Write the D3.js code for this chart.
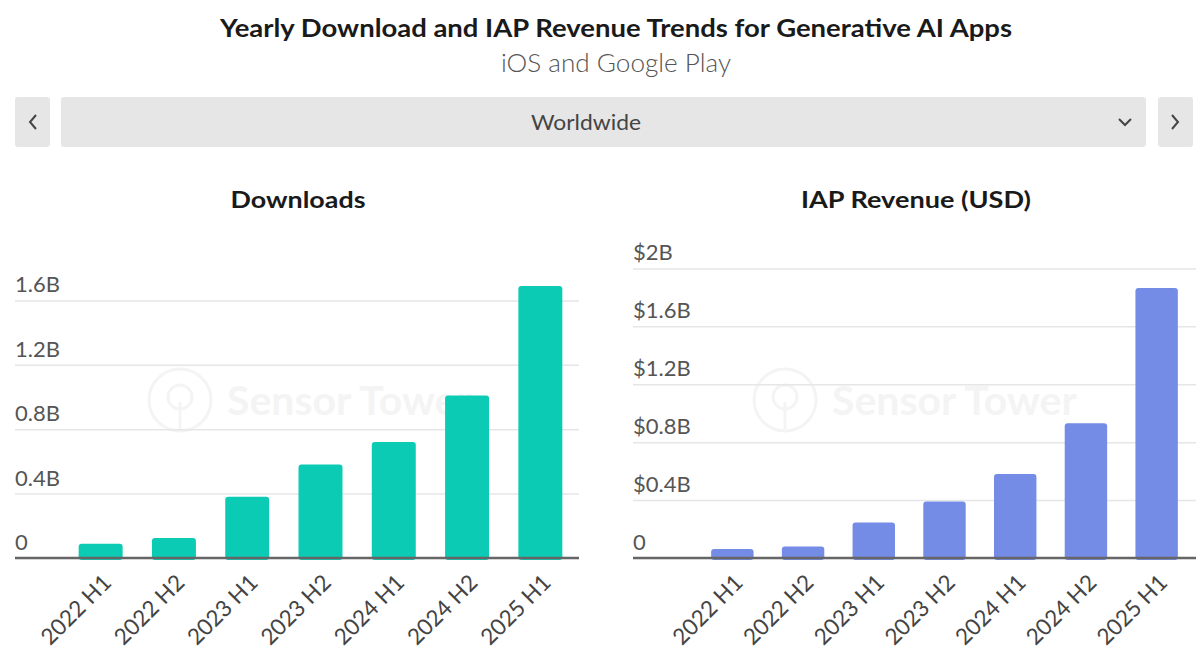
<!DOCTYPE html>
<html>
<head>
<meta charset="utf-8">
<script src="https://cdn.jsdelivr.net/npm/d3@7"></script>
<style>
  html, body { margin: 0; padding: 0; background: #fff; }
  svg { display: block; }
  text { font-family: "Lato", "Open Sans", sans-serif; }
</style>
</head>
<body>
<svg id="chart" width="1200" height="672"></svg>
<script>
// ---- data ----
const periods = ["2022 H1", "2022 H2", "2023 H1", "2023 H2", "2024 H1", "2024 H2", "2025 H1"];
const downloads = [0.088, 0.124, 0.38, 0.58, 0.72, 1.01, 1.69];      // billions
const revenue = [0.063, 0.08, 0.245, 0.39, 0.58, 0.93, 1.865];       // billions USD
const downloadTicks = [0, 0.4, 0.8, 1.2, 1.6];
const downloadTickLabels = ["0", "0.4B", "0.8B", "1.2B", "1.6B"];
const revenueTicks = [0, 0.4, 0.8, 1.2, 1.6, 2.0];
const revenueTickLabels = ["0", "$0.4B", "$0.8B", "$1.2B", "$1.6B", "$2B"];
const titleText = "Yearly Download and IAP Revenue Trends for Generative AI Apps";
const subtitleText = "iOS and Google Play";
const regionText = "Worldwide";

const svg = d3.select("#chart");

// ---- header ----
svg.append("text").attr("x", 616).attr("y", 37).attr("text-anchor", "middle")
  .attr("font-size", 25).attr("font-weight", 700).attr("fill", "#1a1a1a")
  .attr("textLength", 792).attr("lengthAdjust", "spacingAndGlyphs").text(titleText);
svg.append("text").attr("x", 616).attr("y", 72).attr("text-anchor", "middle")
  .attr("font-size", 25).attr("font-weight", 300).attr("fill", "#555")
  .attr("textLength", 230).attr("lengthAdjust", "spacingAndGlyphs").text(subtitleText);

// dropdown bar
const ctrl = svg.append("g");
ctrl.append("rect").attr("x", 15).attr("y", 97).attr("width", 35).attr("height", 50).attr("rx", 3).attr("fill", "#e6e6e6");
ctrl.append("rect").attr("x", 61).attr("y", 97).attr("width", 1085).attr("height", 50).attr("rx", 3).attr("fill", "#e6e6e6");
ctrl.append("rect").attr("x", 1158).attr("y", 97).attr("width", 35).attr("height", 50).attr("rx", 3).attr("fill", "#e6e6e6");
ctrl.append("path").attr("d", "M36,115 L30,122 L36,129").attr("fill", "none").attr("stroke", "#444").attr("stroke-width", 2);
ctrl.append("path").attr("d", "M1172,115 L1178,122 L1172,129").attr("fill", "none").attr("stroke", "#444").attr("stroke-width", 2);
ctrl.append("path").attr("d", "M1119,119 L1125,125 L1131,119").attr("fill", "none").attr("stroke", "#444").attr("stroke-width", 2);
ctrl.append("text").attr("x", 586).attr("y", 130).attr("text-anchor", "middle")
  .attr("font-size", 22).attr("fill", "#444")
  .attr("textLength", 110).attr("lengthAdjust", "spacingAndGlyphs").text(regionText);

// ---- panels ----
function panel(opts) {
  const g = svg.append("g");
  const baseY = 558;
  const y = d3.scaleLinear().domain([0, 1]).range([baseY, baseY - opts.pxPerB]);
  const x = d3.scaleBand().domain(periods).range(opts.xRange).paddingInner(0.4).paddingOuter(0.2);

  // title
  g.append("text").attr("x", opts.titleX).attr("y", 208).attr("text-anchor", "middle")
    .attr("font-size", 22).attr("font-weight", 700).attr("fill", "#1a1a1a")
    .attr("textLength", opts.titleLen).attr("lengthAdjust", "spacingAndGlyphs").text(opts.title);

  // watermark
  const wm = g.append("g");
  const wc = "#f4f4f4";
  wm.append("circle").attr("cx", opts.wmX).attr("cy", 400).attr("r", 31)
    .attr("fill", "none").attr("stroke", wc).attr("stroke-width", 3);
  wm.append("circle").attr("cx", opts.wmX).attr("cy", 397).attr("r", 12)
    .attr("fill", "none").attr("stroke", wc).attr("stroke-width", 3);
  wm.append("line").attr("x1", opts.wmX).attr("x2", opts.wmX).attr("y1", 402).attr("y2", 429)
    .attr("stroke", wc).attr("stroke-width", 3);
  wm.append("text").attr("x", opts.wmX + 47).attr("y", 415).attr("font-size", 41).attr("font-weight", 700)
    .attr("fill", wc).text("Sensor Tower");

  // gridlines
  const yAxis = d3.axisLeft(y).tickValues(opts.ticks).tickSize(-(opts.gridX2 - opts.gridX1)).tickFormat("");
  const ga = g.append("g").attr("transform", `translate(${opts.gridX1},0)`).call(yAxis);
  ga.select(".domain").remove();
  ga.selectAll(".tick line").attr("stroke", "#e6e6e6").attr("stroke-width", 1.5);

  // tick labels above gridlines
  g.selectAll(".ylab").data(opts.ticks).enter().append("text")
    .attr("x", opts.gridX1).attr("y", d => y(d) - 8)
    .attr("font-size", 22).attr("fill", "#555")
    .text((d, i) => opts.tickLabels[i]);

  // bars
  g.selectAll(".bar").data(opts.values).enter().append("rect")
    .attr("x", (d, i) => x(periods[i]))
    .attr("y", d => y(d))
    .attr("width", x.bandwidth())
    .attr("height", d => baseY - y(d) + 2)
    .attr("rx", 3)
    .attr("fill", opts.color);

  // baseline
  g.append("line").attr("x1", opts.gridX1).attr("x2", opts.gridX2).attr("y1", baseY).attr("y2", baseY)
    .attr("stroke", "#666").attr("stroke-width", 2.5);

  // x labels
  g.selectAll(".xlab").data(periods).enter().append("text")
    .attr("transform", d => `translate(${x(d) + x.bandwidth() / 2 + 12},584) rotate(-45)`)
    .attr("text-anchor", "end").attr("font-size", 22.5).attr("fill", "#444")
    .text(d => d);
}

panel({
  title: "Downloads", titleX: 298, titleLen: 135,
  values: downloads, ticks: downloadTicks, tickLabels: downloadTickLabels,
  pxPerB: 161, xRange: [64, 577], gridX1: 15, gridX2: 579,
  color: "#0ccbb4", wmX: 180
});
panel({
  title: "IAP Revenue (USD)", titleX: 916, titleLen: 230,
  values: revenue, ticks: revenueTicks, tickLabels: revenueTickLabels,
  pxPerB: 144.8, xRange: [697, 1192], gridX1: 633, gridX2: 1196,
  color: "#748ce6", wmX: 785
});
</script>
</body>
</html>
